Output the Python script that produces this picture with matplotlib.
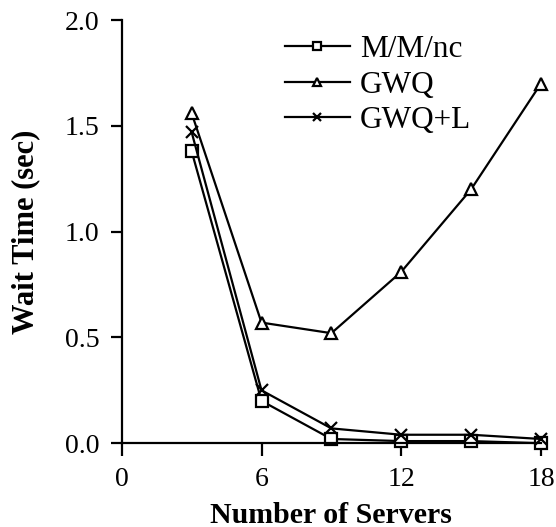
import matplotlib.pyplot as plt

plt.rcParams['font.family'] = ['Liberation Serif', 'DejaVu Serif']

servers = [3, 6, 9, 12, 15, 18]
mmnc = [1.38, 0.20, 0.02, 0.01, 0.01, 0.00]
gwq = [1.56, 0.57, 0.52, 0.81, 1.20, 1.70]
gwq_l = [1.47, 0.25, 0.07, 0.04, 0.04, 0.02]

fig = plt.figure(figsize=(5.56, 5.27), dpi=100)
ax = fig.add_axes([0.219, 0.159, 0.754, 0.803])

style = dict(color='black', linewidth=1.6, markersize=8, markeredgewidth=1.6,
             markerfacecolor='white', clip_on=False)
ax.plot(servers, mmnc, marker='s', label='M/M/nc', **style)
ax.plot(servers, gwq, marker='^', label='GWQ', **style)
ax.plot(servers, gwq_l, marker='x', label='GWQ+L', **style)

ax.set_xlim(0, 18)
ax.set_ylim(0, 2.0)
ax.set_xticks([0, 6, 12, 18])
ax.set_yticks([0.0, 0.5, 1.0, 1.5, 2.0])
ax.set_yticklabels(['0.0', '0.5', '1.0', '1.5', '2.0'])
ax.spines['top'].set_visible(False)
ax.spines['right'].set_visible(False)
for s in ['left', 'bottom']:
    ax.spines[s].set_linewidth(1.6)
ax.tick_params(axis='x', direction='out', length=9, width=1.6, labelsize=20, pad=8)
ax.tick_params(axis='y', direction='out', length=8, width=1.6, labelsize=20, pad=8)

ax.set_xlabel('Number of Servers', fontsize=21.5, fontweight='bold', labelpad=7)
ax.set_ylabel('Wait Time (sec)', fontsize=22, fontweight='bold', labelpad=18)

ax.legend(loc='upper left', bbox_to_anchor=(0.389, 0.964), frameon=False, fontsize=22.5,
          borderaxespad=0, borderpad=0, handlelength=2.08, handletextpad=0.32,
          labelspacing=0.2, markerscale=0.75)

fig.savefig('out.png', dpi=100)
